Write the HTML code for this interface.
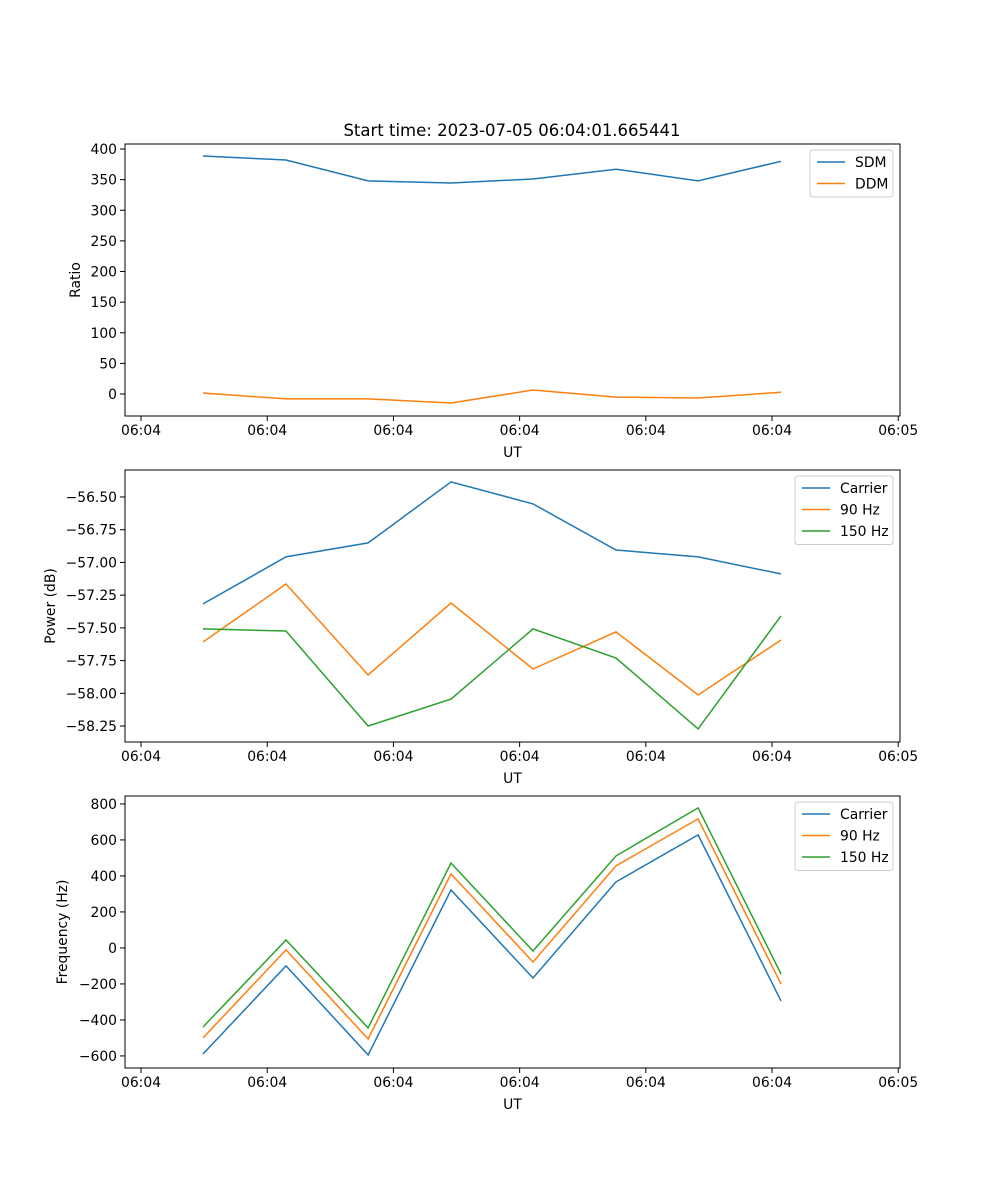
<!DOCTYPE html>
<html><head><meta charset="utf-8"><style>
body{margin:0;background:#fff}
svg{display:block;font-family:"DejaVu Sans","Liberation Sans",sans-serif}
</style></head><body>
<svg id="fig" width="1000" height="1200" viewBox="0 0 1000 1200">
<text x="512" y="136" font-size="16.5" text-anchor="middle">Start time: 2023-07-05 06:04:01.665441</text>
</svg>
<script>
const times = [4.91, 11.49, 17.99, 24.56, 31.06, 37.64, 44.14, 50.71];
const xTickValues = [0, 10, 20, 30, 40, 50, 60];
const xTickLabels = ["06:04","06:04","06:04","06:04","06:04","06:04","06:05"];
const sdm = [388.6, 382, 348, 344.5, 351, 367, 348, 380];
const ddm = [1.6, -8, -8, -14.7, 6.5, -5, -6.5, 3];
const ratioTicks = [0, 50, 100, 150, 200, 250, 300, 350, 400];
const powCarrier = [-57.317, -56.958, -56.851, -56.385, -56.553, -56.905, -56.958, -57.088];
const pow90 = [-57.608, -57.165, -57.860, -57.310, -57.814, -57.531, -58.013, -57.593];
const pow150 = [-57.508, -57.524, -58.25, -58.044, -57.508, -57.730, -58.272, -57.409];
const powTicks = [-58.25, -58.00, -57.75, -57.50, -57.25, -57.00, -56.75, -56.50];
const freqCarrier = [-589, -100, -594, 322, -167, 367, 628, -294];
const freq90 = [-500, -11, -506, 411, -78, 456, 717, -200];
const freq150 = [-439, 44, -444, 472, -17, 511, 778, -144];
const freqTicks = [-600, -400, -200, 0, 200, 400, 600, 800];

const NS = "http://www.w3.org/2000/svg";
const svg = document.getElementById("fig");
const C = {blue:"#1f77b4", orange:"#ff7f0e", green:"#2ca02c"};
function mk(tag, attrs, parent){const e=document.createElementNS(NS,tag);for(const k in attrs)e.setAttribute(k,attrs[k]);(parent||svg).appendChild(e);return e;}
const L=125,R=900,xmin=-1.27,xmax=60.14;
function X(t){return L+(t-xmin)/(xmax-xmin)*(R-L);}

function panel(top, bottom, ymin, ymax, ticks, tickFmt, ylabel, series, legend, id){
  const g=mk("g",{});
  
  
  const Y=v=>bottom-(v-ymin)/(ymax-ymin)*(bottom-top);
  series.forEach(s=>{
    const p=mk("polyline",{points:times.map((t,i)=>X(t).toFixed(1)+","+Y(s.v[i]).toFixed(1)).join(" "),fill:"none",stroke:s.c,"stroke-width":1.5},g);
    
    
  });
  const fr=mk("rect",{x:L,y:top,width:R-L,height:bottom-top,fill:"none",stroke:"#000","stroke-width":1},g);
  
  
  xTickValues.forEach((v,i)=>{
    const x=X(v);
    mk("line",{x1:x,x2:x,y1:bottom,y2:bottom+5,stroke:"#000"},g);
    const t=mk("text",{x:x,y:bottom+19,"font-size":13.9,"text-anchor":"middle"},g);
    t.textContent=xTickLabels[i];
    
    
  });
  ticks.forEach(v=>{
    const y=Y(v);
    mk("line",{x1:L-5,x2:L,y1:y,y2:y,stroke:"#000"},g);
    const t=mk("text",{x:L-8,y:y+5,"font-size":13.9,"text-anchor":"end"},g);
    t.textContent=tickFmt(v);
    
    
  });
  const xl=mk("text",{x:(L+R)/2,y:bottom+41,"font-size":13.9,"text-anchor":"middle"},g);
  xl.textContent="UT";
  
  
  const yx=legend.yx, yy=(top+bottom)/2;
  const yl=mk("text",{x:yx,y:yy,"font-size":13.9,"text-anchor":"middle",transform:`rotate(-90 ${yx} ${yy})`},g);
  yl.textContent=ylabel;
  
  
  const lg=mk("g",{},g);
  
  
  const n=series.length;
  mk("rect",{x:legend.x,y:top+6,width:893-legend.x,height:n*21.5+4,rx:3,fill:"#fff","fill-opacity":0.8,stroke:"#ccc"},lg);
  series.forEach((s,i)=>{
    const yy2=top+18+i*21.5;
    mk("line",{x1:legend.x+7,x2:legend.x+35,y1:yy2,y2:yy2,stroke:s.c,"stroke-width":1.5},lg);
    const t=mk("text",{x:legend.x+45,y:yy2+5,"font-size":13.9},lg);
    t.textContent=s.n;
    
    
  });
}
panel(144,416,-35.9,408.2,ratioTicks,v=>String(v),"Ratio",
  [{v:sdm,c:C.blue,n:"SDM"},{v:ddm,c:C.orange,n:"DDM"}],{x:810,yx:80},"ratio");
panel(470,742,-58.372,-56.294,powTicks,v=>(v<0?"\u2212":"")+Math.abs(v).toFixed(2),"Power (dB)",
  [{v:powCarrier,c:C.blue,n:"Carrier"},{v:pow90,c:C.orange,n:"90 Hz"},{v:pow150,c:C.green,n:"150 Hz"}],{x:795,yx:55},"power");
panel(796,1068,-667,844,freqTicks,v=>(v<0?"\u2212":"")+Math.abs(v),"Frequency (Hz)",
  [{v:freqCarrier,c:C.blue,n:"Carrier"},{v:freq90,c:C.orange,n:"90 Hz"},{v:freq150,c:C.green,n:"150 Hz"}],{x:795,yx:67},"frequency");
</script>
</body></html>
